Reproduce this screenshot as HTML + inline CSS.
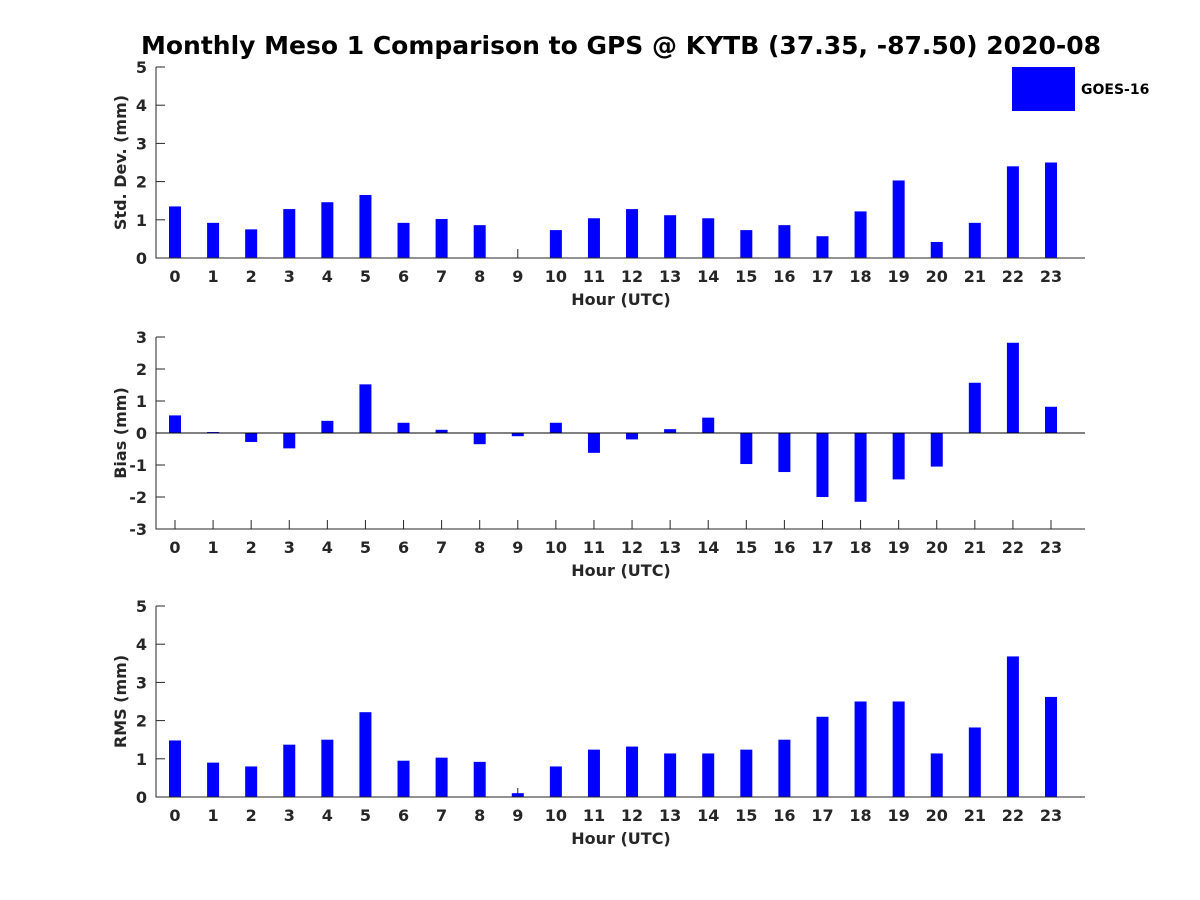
<!DOCTYPE html>
<html><head><meta charset="utf-8"><style>
body{margin:0;background:#fff;}
svg{display:block;font-family:"DejaVu Sans","Liberation Sans",sans-serif;}
</style></head><body>
<svg id="chart" width="1200" height="900" viewBox="0 0 1200 900">
<rect width="1200" height="900" fill="#fff"/>
<text x="621" y="54" text-anchor="middle" font-size="25" font-weight="bold" fill="#000">Monthly Meso 1 Comparison to GPS @ KYTB (37.35, -87.50) 2020-08</text>
<rect x="1012" y="67" width="63" height="44" fill="#0000ff"/>
<text x="1081" y="94" font-size="14" font-weight="bold" fill="#000">GOES-16</text>
</svg>
<script>
const hours=[0,1,2,3,4,5,6,7,8,9,10,11,12,13,14,15,16,17,18,19,20,21,22,23];
const stdValues=[1.35,0.92,0.75,1.28,1.46,1.65,0.92,1.02,0.86,0,0.73,1.04,1.28,1.12,1.04,0.73,0.86,0.57,1.22,2.03,0.42,0.92,2.4,2.5];
const biasValues=[0.55,0.03,-0.28,-0.48,0.38,1.52,0.32,0.1,-0.35,-0.1,0.32,-0.62,-0.2,0.12,0.48,-0.97,-1.22,-2.0,-2.15,-1.45,-1.05,1.57,2.82,0.82];
const rmsValues=[1.48,0.9,0.8,1.37,1.5,2.22,0.95,1.03,0.92,0.1,0.8,1.24,1.32,1.14,1.14,1.24,1.5,2.1,2.5,2.5,1.14,1.82,3.68,2.62];
const stdTicks=[0,1,2,3,4,5];
const biasTicks=[-3,-2,-1,0,1,2,3];
const rmsTicks=[0,1,2,3,4,5];
const svg=document.getElementById('chart');
const NS='http://www.w3.org/2000/svg';
function mk(tag,a,txt){const e=document.createElementNS(NS,tag);for(const k in a)e.setAttribute(k,a[k]);if(txt!==undefined)e.textContent=txt;svg.appendChild(e);return e;}
const L=156,R=1085;
const xs=h=>175+h*(1051-175)/23;
function panel(key,top,bot,ymin,ymax,vals,ticks,ylabel){
  const ys=v=>bot-(v-ymin)/(ymax-ymin)*(bot-top);
  const z=ys(Math.max(0,ymin));
  hours.forEach(h=>{
    const t=mk('line',{x1:xs(h),x2:xs(h),y1:bot,y2:bot-9,stroke:'#262626','stroke-width':1});
    
    
    const l=mk('text',{x:xs(h),y:bot+24,'text-anchor':'middle','font-size':16,'font-weight':'bold',fill:'#262626'},String(h));
    
    
  });
  vals.forEach((v,i)=>{
    const y0=Math.min(ys(v),z),h=Math.abs(ys(v)-z);
    const r=mk('rect',{x:xs(hours[i])-6,y:y0,width:12,height:h,fill:'#0000ff'});
    
    
  });
  ticks.forEach(t=>{
    const tk=mk('line',{x1:L,x2:L+9,y1:ys(t),y2:ys(t),stroke:'#262626','stroke-width':1});
    
    
    const l=mk('text',{x:L-9,y:ys(t)+6,'text-anchor':'end','font-size':16,'font-weight':'bold',fill:'#262626'},String(t));
    
    
  });
  const ax=mk('path',{d:`M${L},${top}V${bot}H${R}`,fill:'none',stroke:'#262626','stroke-width':1});
  
  
  if(ymin<0){const zl=mk('line',{x1:L,x2:R,y1:z,y2:z,stroke:'#000','stroke-width':1});
    
    }
  const xt=mk('text',{x:621,y:bot+47,'text-anchor':'middle','font-size':16,'font-weight':'bold',fill:'#262626'},'Hour (UTC)');
  
  
  const cy=(top+bot)/2;
  const yt=mk('text',{x:126,y:cy,'text-anchor':'middle','font-size':16,'font-weight':'bold',fill:'#262626',transform:`rotate(-90 126 ${cy})`},ylabel);
  
  
}
panel('std',67,258,0,5,stdValues,stdTicks,'Std. Dev. (mm)');
panel('bias',337,529,-3,3,biasValues,biasTicks,'Bias (mm)');
panel('rms',606,797,0,5,rmsValues,rmsTicks,'RMS (mm)');
</script>
</body></html>
